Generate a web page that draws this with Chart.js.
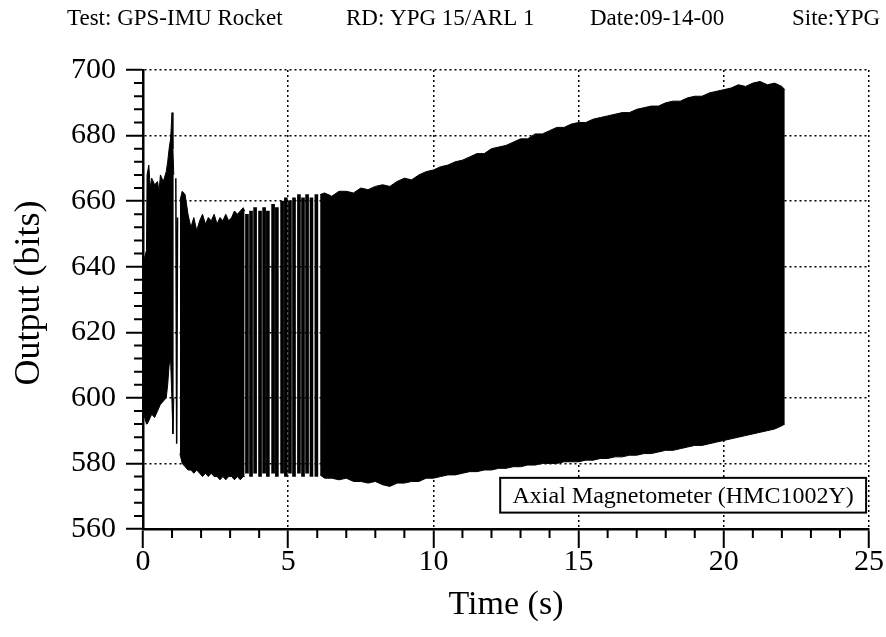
<!DOCTYPE html>
<html>
<head>
<meta charset="utf-8">
<script src="https://cdn.jsdelivr.net/npm/chart.js@4.4.0/dist/chart.umd.min.js"></script>
<style>
  body { margin: 0; background: #fff; }
  #wrap { position: relative; width: 886px; height: 637px; }
</style>
</head>
<body>
<div id="wrap"><canvas id="magChart" width="886" height="637"></canvas></div>
<script>
// Axial magnetometer output during the GPS-IMU rocket flight

const headerText = ["Test: GPS-IMU Rocket", "RD: YPG 15/ARL 1", "Date:09-14-00", "Site:YPG"];
const xTicks = [0, 5, 10, 15, 20, 25];
const yTicks = [560, 580, 600, 620, 640, 660, 680, 700];

// burst right after launch: time (s), top and bottom of the trace (bits)
const burstTime   = [0.00, 0.12, 0.14, 0.20, 0.25, 0.30, 0.40, 0.50, 0.55, 0.60, 0.70, 0.80, 0.85, 0.90, 0.95, 1.00, 1.03, 1.06];
const burstTop    = [641, 645, 668, 671, 664, 667, 665, 666, 663, 668, 666, 669, 672, 676, 679, 687, 676, 668];
const burstBottom = [596, 592, 592, 593, 594, 595, 594, 596, 597, 598, 599, 600, 604, 610, 612, 598, 589, 600];

// single swing between the burst and the next block
const strokeTime  = [1.13, 1.16, 1.19];
const strokeValue = [667, 586, 655];

// second dense block
const blockTime   = [1.27, 1.35, 1.45, 1.55, 1.65, 1.75, 1.85, 1.95, 2.05, 2.15, 2.25, 2.35, 2.45, 2.55, 2.65, 2.75, 2.85, 2.95, 3.05, 3.15, 3.25, 3.35, 3.45, 3.50];
const blockTop    = [660, 663, 662, 656, 652, 655, 651, 654, 656, 653, 655, 654, 656, 653, 655, 654, 656, 654, 655, 657, 656, 657, 658, 657];
const blockBottom = [583, 580, 579, 578, 578, 577, 578, 577, 576, 577, 576, 577, 576, 576, 575, 576, 575, 576, 576, 575, 576, 575, 576, 576];

// slower swings where single cycles show: time, top, bottom
const swingTime   = [3.58, 3.72, 3.86, 4.03, 4.17, 4.30, 4.48, 4.61, 4.79, 4.92, 5.06, 5.20, 5.37, 5.51, 5.65, 5.80, 5.97];
const swingTop    = [656, 657, 658, 657, 658, 657, 659, 658, 660, 661, 660, 661, 662, 661, 662, 661, 662];
const swingBottom = [577, 576, 577, 576, 577, 576, 577, 576, 577, 576, 577, 576, 577, 576, 577, 576, 576];

// main spin-up block to the end of the record
const mainTime = [6.10, 6.25, 6.50, 6.75, 7.00, 7.25, 7.50, 7.75, 8.00, 8.25, 8.50, 8.75, 9.00, 9.25, 9.50, 9.75,
                  10.00, 10.25, 10.50, 10.75, 11.00, 11.25, 11.50, 11.75, 12.00, 12.25, 12.50, 12.75, 13.00, 13.25, 13.50, 13.75,
                  14.00, 14.25, 14.50, 14.75, 15.00, 15.25, 15.50, 15.75, 16.00, 16.25, 16.50, 16.75, 17.00, 17.25, 17.50, 17.75,
                  18.00, 18.25, 18.50, 18.75, 19.00, 19.25, 19.50, 19.75, 20.00, 20.25, 20.50, 20.75, 21.00, 21.25, 21.50, 21.75,
                  22.00, 22.10];
const mainTop = [662, 662.5, 661.5, 663, 663, 662.5, 664, 663.5, 664.5, 665, 664.5, 666, 667, 666.5, 668, 669,
                 669.5, 670.5, 671, 672, 672.5, 673.5, 674.5, 674.5, 676, 676.5, 677, 678, 679, 679, 680.5, 680.5,
                 681.5, 682.5, 682.5, 683.5, 684, 684, 685, 685.5, 686, 686.5, 687, 687, 688, 688.5, 689, 689,
                 690, 690.5, 690.5, 691.5, 692, 692, 693, 693.5, 694, 694.5, 695.5, 695, 696, 696.5, 695.5, 696,
                 695, 694];
const mainBottom = [576.5, 575.5, 575.5, 575, 575.5, 574.5, 574.5, 574, 574.5, 573.5, 573, 574, 574, 574.5, 574.5, 575.5,
                    575.5, 576, 576.5, 576.5, 577, 577.5, 577.5, 578, 578, 578.5, 578.5, 579, 579, 579.5, 579.5, 580,
                    580, 580, 580.5, 580.5, 580.5, 581, 581, 581.5, 581.5, 582, 582, 582.5, 582.5, 583, 583, 583.5,
                    584, 584, 584.5, 585, 585.5, 585.5, 586, 586.5, 587, 587.5, 588, 588.5, 589, 589.5, 590, 590.5,
                    591.5, 592];

const boxLabel = "Axial Magnetometer (HMC1002Y)";
const serif = "'Liberation Serif', 'Times New Roman', serif";

function pts(xs, ys) {
  return xs.map(function(x, i) { return { x: x, y: ys[i] }; });
}

function edge(xs, ys, fill) {
  return {
    data: pts(xs, ys),
    borderColor: "#000",
    borderWidth: 1,
    backgroundColor: "#000",
    fill: fill,
    pointRadius: 0
  };
}

// minor ticks, titles, header and the label box
const decorations = {
  id: "decorations",
  afterDraw: function(chart) {
    const ctx = chart.ctx;
    const xs = chart.scales.x, ys = chart.scales.y;
    const area = chart.chartArea;
    ctx.save();
    ctx.strokeStyle = "#000";
    ctx.lineWidth = 2;
    ctx.beginPath();
    for (let t = 0; t <= 25; t++) {
      if (t % 5 === 0) continue;
      const px = xs.getPixelForValue(t);
      ctx.moveTo(px, area.bottom);
      ctx.lineTo(px, area.bottom + 9);
    }
    for (let v = 560; v <= 700; v += 4) {
      if (v % 20 === 0) continue;
      const py = ys.getPixelForValue(v);
      ctx.moveTo(area.left, py);
      ctx.lineTo(area.left - 9, py);
    }
    ctx.stroke();

    ctx.fillStyle = "#000";
    ctx.textBaseline = "middle";
    ctx.textAlign = "left";
    ctx.font = "23px " + serif;
    const hx = [67, 346, 590, 792];
    headerText.forEach(function(s, i) { ctx.fillText(s, hx[i], 19); });

    ctx.textAlign = "center";
    ctx.font = "34px " + serif;
    ctx.fillText("Time (s)", (area.left + area.right) / 2, 605);
    ctx.save();
    ctx.font = "36px " + serif;
    ctx.translate(30, 293);
    ctx.rotate(-Math.PI / 2);
    ctx.fillText("Output (bits)", 0, 0);
    ctx.restore();

    const bx1 = xs.getPixelForValue(12.3), bx2 = xs.getPixelForValue(24.9);
    const by1 = ys.getPixelForValue(575.6), by2 = ys.getPixelForValue(565);
    ctx.fillStyle = "#fff";
    ctx.fillRect(bx1, by1, bx2 - bx1, by2 - by1);
    ctx.lineWidth = 2;
    ctx.strokeRect(bx1, by1, bx2 - bx1, by2 - by1);
    ctx.fillStyle = "#000";
    ctx.font = "24px " + serif;
    ctx.fillText(boxLabel, (bx1 + bx2) / 2, (by1 + by2) / 2 + 1);
    ctx.restore();
  }
};

const axisFont = { family: serif, size: 30 };

new Chart(document.getElementById("magChart"), {
  type: "line",
  data: {
    datasets: [
      edge(burstTime, burstBottom, false),
      edge(burstTime, burstTop, "-1"),
      edge(blockTime, blockBottom, false),
      edge(blockTime, blockTop, "-1"),
      edge(mainTime, mainBottom, false),
      edge(mainTime, mainTop, "-1"),
      { data: pts(strokeTime, strokeValue), borderColor: "#000", borderWidth: 1.5, fill: false, pointRadius: 0 },
      {
        type: "bar",
        data: swingTime.map(function(t, i) { return { x: t, y: [swingBottom[i], swingTop[i]] }; }),
        backgroundColor: "#000",
        borderWidth: 0,
        barThickness: 3
      }
    ]
  },
  options: {
    responsive: false,
    animation: false,
    layout: { padding: { top: 70, right: 17, bottom: 0, left: 0 } },
    plugins: { legend: { display: false }, tooltip: { enabled: false } },
    elements: { line: { tension: 0 } },
    scales: {
      x: {
        type: "linear", min: 0, max: 25, offset: false,
        afterFit: function(s) { s.height = 108; },
        afterBuildTicks: function(s) { s.ticks = xTicks.map(function(v) { return { value: v }; }); },
        ticks: { font: axisFont, color: "#000", padding: -4, maxRotation: 0, autoSkip: false },
        grid: { offset: false, color: "#000", lineWidth: 1.5, tickLength: 19, tickColor: "#000", tickWidth: 2, tickBorderDash: [] },
        border: { display: true, color: "#000", width: 2.5, dash: [2, 3] }
      },
      y: {
        type: "linear", min: 560, max: 700, beginAtZero: false,
        afterFit: function(s) { s.width = 143; },
        afterBuildTicks: function(s) { s.ticks = yTicks.map(function(v) { return { value: v }; }); },
        ticks: { font: axisFont, color: "#000", padding: 10, autoSkip: false },
        grid: { color: "#000", lineWidth: 1.5, tickLength: 17, tickColor: "#000", tickWidth: 2, tickBorderDash: [] },
        border: { display: true, color: "#000", width: 2.5, dash: [2, 3] }
      }
    }
  },
  plugins: [decorations]
});
</script>
</body>
</html>
